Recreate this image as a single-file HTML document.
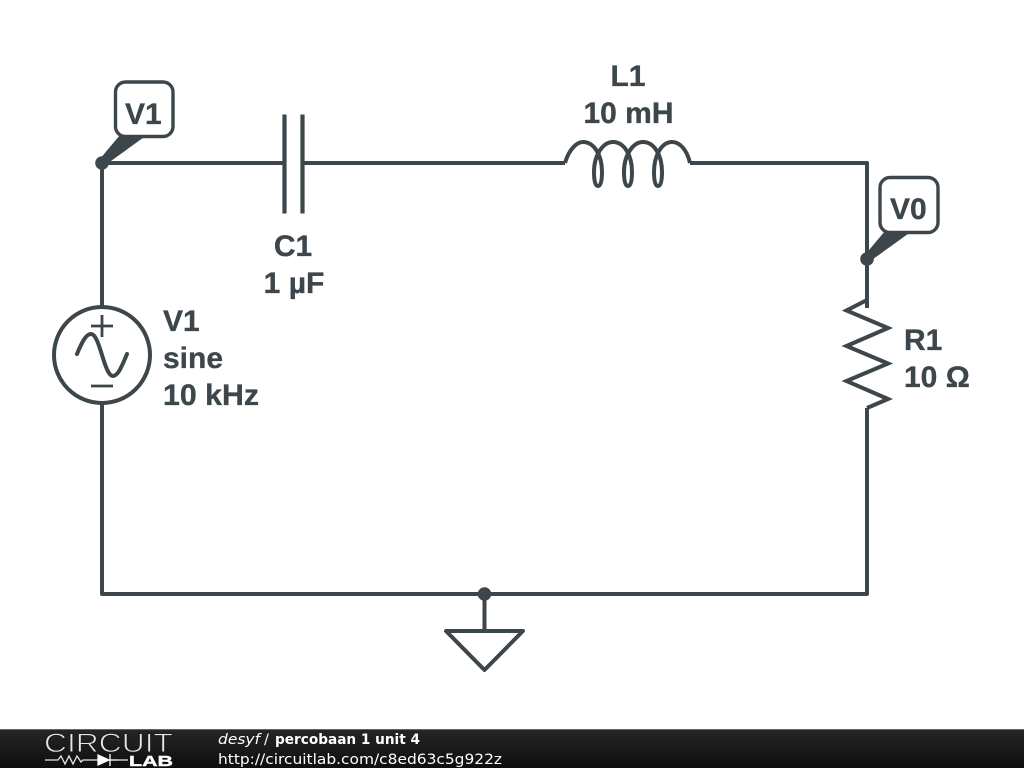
<!DOCTYPE html>
<html>
<head>
<meta charset="utf-8">
<style>
html,body{margin:0;padding:0;background:#fff;width:1024px;height:768px;overflow:hidden}
svg{display:block}
.l{font-family:"Liberation Sans",sans-serif;font-weight:bold;font-size:30px;fill:#3d464b;stroke:#3d464b;stroke-width:0.35}
.f{font-family:"DejaVu Sans",sans-serif;font-size:14.5px;fill:#fff}
</style>
</head>
<body>
<svg width="1024" height="768" viewBox="0 0 1024 768" xmlns="http://www.w3.org/2000/svg">
<defs>
<linearGradient id="g" x1="0" y1="0" x2="0" y2="1">
<stop offset="0" stop-color="#262626"/><stop offset="1" stop-color="#0e0e0e"/>
</linearGradient>
</defs>
<rect width="1024" height="768" fill="#fff"/>
<g fill="none" stroke="#3d464b" stroke-width="4" stroke-linejoin="round">
<path d="M102 163H285M302 163H565"/>
<path d="M690 163H867V308"/>
<path d="M867 408V594H102V403"/>
<path d="M102 307V163"/>
<path d="M284.500 114.500V213.500M302.500 114.500V213.500" stroke-width="4.200"/>
<path d="M565 163C569 149 577 142 583 142C594 142 602 155 602 172C602 182 600.500 186 598 186C595.500 186 594 182 594 172C594 155 603 142 613 142C624 142 632 155 632 172C632 182 630.500 186 628 186C625.500 186 624 182 624 172C624 155 633 142 643 142C654 142 662 155 662 172C662 182 660.500 186 658 186C655.500 186 654 182 654 172C654 155 662 142 672 142C680 142 687 150 690 163"/>
<path d="M867 300L846.500 310.500L888 328L846.500 346L888 363.500L846.500 381L888 399L867 408" stroke-linejoin="miter" stroke-miterlimit="10"/>
<circle cx="102" cy="355" r="48"/>
<path d="M91 326H113M102 315V337M91 386H113" stroke-width="2.800"/>
<path d="M77 354C82 342 86 334 91 334C100 334 104 376 113 376C118 376 122 366 127 354" stroke-linecap="round"/>
<path d="M484.500 594V631"/>
<path d="M446 631H523L484.500 670Z"/>
</g>
<g fill="#3d464b">
<circle cx="102" cy="163" r="6.800"/>
<circle cx="867" cy="259" r="6.800"/>
<circle cx="484.500" cy="594" r="6.800"/>
<path d="M99 160L120 135H147L104 166Z"/>
<path d="M864 256L885 231H912L869 262Z"/>
</g>
<g fill="#fff" stroke="#3d464b" stroke-width="3.400">
<rect x="115.500" y="82" width="57.500" height="54.500" rx="10"/>
<rect x="880" y="177.500" width="58" height="55" rx="10"/>
</g>
<text class="l" x="125" y="124">V1</text>
<text class="l" x="890" y="219">V0</text>
<text class="l" x="628" y="86" text-anchor="middle">L1</text>
<text class="l" x="628.500" y="123" text-anchor="middle">10 mH</text>
<text class="l" x="293" y="256" text-anchor="middle">C1</text>
<text class="l" x="294" y="293" text-anchor="middle">1 µF</text>
<text class="l" x="163" y="331">V1</text>
<text class="l" x="163" y="368">sine</text>
<text class="l" x="163" y="405" textLength="96" lengthAdjust="spacingAndGlyphs">10 kHz</text>
<text class="l" x="904" y="350">R1</text>
<text class="l" x="904" y="387">10 Ω</text>
<rect x="0" y="729" width="1024" height="39" fill="url(#g)"/>
<rect x="0" y="729" width="1024" height="1" fill="#666"/>
<text x="44" y="752" font-family="Liberation Sans,sans-serif" font-size="27" fill="#e8e8e8" stroke="#1c1c1c" stroke-width="0.9" textLength="129" lengthAdjust="spacingAndGlyphs">CIRCUIT</text>
<path d="M45 760H58L61 756L65 764L69 756L73 764L77 756L81 762L83 760H98M118 760H128" fill="none" stroke="#e8e8e8" stroke-width="1.300"/>
<path d="M98 755V765L109 760Z M110 754V766" fill="#fff" stroke="#fff" stroke-width="1.300"/>
<path d="M109 760H118" stroke="#fff" stroke-width="1.300"/>
<text x="129" y="766" font-family="Liberation Sans,sans-serif" font-weight="bold" font-size="15" fill="#fff" stroke="#fff" stroke-width="0.4" textLength="44" lengthAdjust="spacingAndGlyphs">LAB</text>
<text class="f" x="218" y="744" font-style="italic" textLength="42" lengthAdjust="spacingAndGlyphs">desyf</text>
<text class="f" x="264" y="744">/</text>
<text class="f" x="275" y="744" font-weight="bold" textLength="145" lengthAdjust="spacingAndGlyphs">percobaan 1 unit 4</text>
<text class="f" x="218" y="764" textLength="284" lengthAdjust="spacingAndGlyphs">http://circuitlab.com/c8ed63c5g922z</text>
</svg>
</body>
</html>
